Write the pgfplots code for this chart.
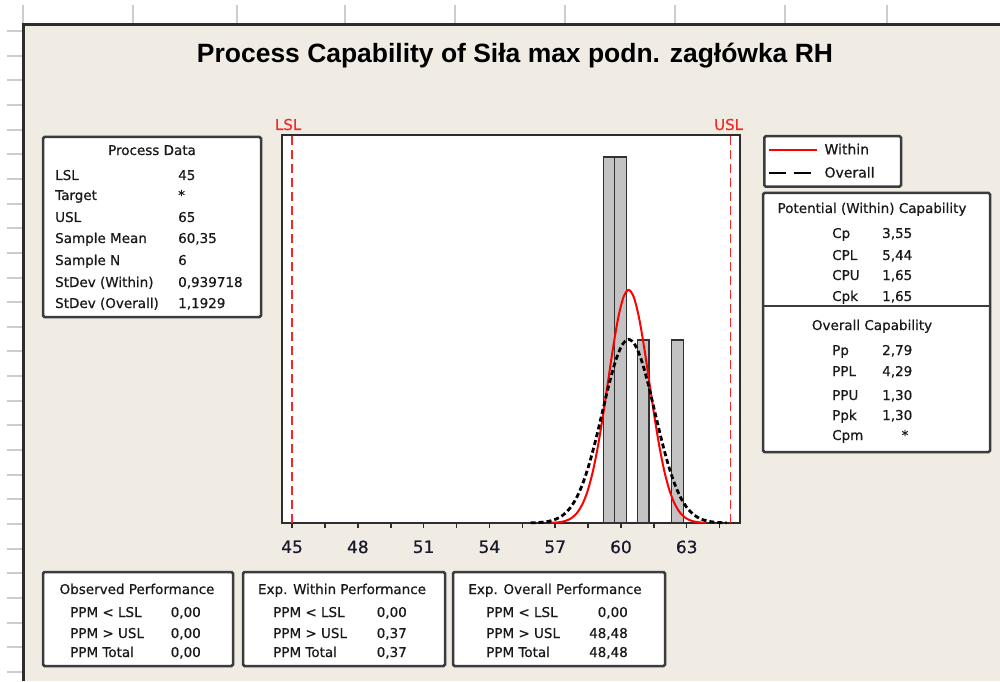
\documentclass[border=0pt]{standalone}
\usepackage{fontspec}
\setmainfont{DejaVu Sans}[FakeBold=0.6]
\newfontfamily\titlefont{Liberation Sans}
\usepackage{graphicx}
\usepackage{pgfplots}
\pgfplotsset{compat=1.18}
\definecolor{bg}{RGB}{240,236,227}
\definecolor{frame}{RGB}{45,45,45}
\definecolor{boxline}{RGB}{60,60,60}
\definecolor{barfill}{RGB}{195,195,195}
\definecolor{bardraw}{RGB}{50,50,50}
\definecolor{gridl}{RGB}{205,205,205}
\definecolor{spec}{RGB}{245,40,40}
\definecolor{txt}{RGB}{25,25,25}
\definecolor{ticktxt}{RGB}{25,25,45}
\newcommand\fs[1]{\fontsize{#1}{#1}\selectfont}
\begin{document}
\begin{tikzpicture}[x=1pt,y=1pt,
  box/.style={draw=boxline,line width=2.5pt,fill=white,rounded corners=1.5pt},
  tl/.style={inner sep=0pt,anchor=base west,font=\fs{13.5},text=txt},
  tr/.style={inner sep=0pt,anchor=base east,font=\fs{13.5},text=txt},
  tc/.style={inner sep=0pt,anchor=base,font=\fs{13.5},text=txt}]
\useasboundingbox (0,0) rectangle (1000,681);
\fill[white] (0,0) rectangle (1000,681);
\foreach \gx in {23,133,237,345,455,565,675,785,887} \draw[gridl,line width=2pt] (\gx,658) -- (\gx,676);
\foreach \k in {0,...,26} {\pgfmathsetmacro\gy{681-31-24.65*\k} \draw[gridl,line width=2pt] (7,\gy) -- (22,\gy);}
\fill[bg] (23,0) rectangle (1000,657);
\draw[frame,line width=3pt] (23.5,0) -- (23.5,656.5) -- (1000,656.5);
% title
\node[inner sep=0pt] at (515,625) {\resizebox{636pt}{!}{\titlefont\bfseries\fs{22}Process Capability of Siła max podn. zagłówka RH}};
% Process data box
\draw[box] (43,544) rectangle (261,364);
\node[tc] at (152,526) {Process Data};
\node[tl] at (55,501) {LSL};            \node[tl] at (178,501) {45};
\node[tl] at (55,481) {Target};         \node[tl] at (178,481) {*};
\node[tl] at (55,459) {USL};            \node[tl] at (178,459) {65};
\node[tl] at (55,438) {Sample Mean};    \node[tl] at (178,438) {60,35};
\node[tl] at (55,416) {Sample N};       \node[tl] at (178,416) {6};
\node[tl] at (55,394) {StDev (Within)}; \node[tl] at (178,394) {0,939718};
\node[tl] at (55,373) {StDev (Overall)};\node[tl] at (178,373) {1,1929};
% capability box
\draw[box] (763,488) rectangle (990,229);
\draw[boxline,line width=2.5pt] (763,375) -- (990,375);
\node[tc] at (872,468) {Potential (Within) Capability};
\node[tl] at (832,443) {Cp};  \node[tl] at (882,443) {3,55};
\node[tl] at (832,421) {CPL}; \node[tl] at (882,421) {5,44};
\node[tl] at (832,401) {CPU}; \node[tl] at (882,401) {1,65};
\node[tl] at (832,380) {Cpk}; \node[tl] at (882,380) {1,65};
\node[tc] at (872,351) {Overall Capability};
\node[tl] at (832,326) {Pp};  \node[tl] at (882,326) {2,79};
\node[tl] at (832,305) {PPL}; \node[tl] at (882,305) {4,29};
\node[tl] at (832,281) {PPU}; \node[tl] at (882,281) {1,30};
\node[tl] at (832,261) {Ppk}; \node[tl] at (882,261) {1,30};
\node[tl] at (832,241) {Cpm}; \node[tc] at (905,241) {*};
% bottom boxes
\draw[box] (43,109) rectangle (233,15);
\node[tc] at (137,87) {Observed Performance};
\node[tl] at (70,64) {PPM < LSL};   \node[tr] at (201,64) {0,00};
\node[tl] at (70,43) {PPM > USL};   \node[tr] at (201,43) {0,00};
\node[tl] at (70,24) {PPM Total};   \node[tr] at (201,24) {0,00};
\draw[box] (243,109) rectangle (445,15);
\node[tc] at (342,87) {Exp. Within Performance};
\node[tl] at (273,64) {PPM < LSL};  \node[tr] at (407,64) {0,00};
\node[tl] at (273,43) {PPM > USL};  \node[tr] at (407,43) {0,37};
\node[tl] at (273,24) {PPM Total};  \node[tr] at (407,24) {0,37};
\draw[box] (453,109) rectangle (665,15);
\node[tc] at (555,87) {Exp. Overall Performance};
\node[tl] at (486,64) {PPM < LSL};  \node[tr] at (628,64) {0,00};
\node[tl] at (486,43) {PPM > USL};  \node[tr] at (628,43) {48,48};
\node[tl] at (486,24) {PPM Total};  \node[tr] at (628,24) {48,48};
\begin{axis}[at={(282pt,158pt)},anchor=south west,scale only axis,
  width=458pt,height=388pt,
  xmin=44.54,xmax=65.43,ymin=0,ymax=2.12,
  xtick={45,48,...,63},minor xtick={46.5,49.5,...,64.5},
  ytick=\empty,xtick pos=left,tick align=outside,
  major tick length=5pt,minor tick length=5pt,
  axis line style={draw=frame,line width=2pt},
  tick style={draw=frame,line width=1.5pt},
  axis background/.style={fill=white},
  xticklabel style={font=\fs{17},text=ticktxt,yshift=-9pt},
  /pgf/number format/assume math mode=true,
  clip=false,
  legend style={at={(1.0502,1)},anchor=north west,draw=boxline,line width=2.5pt,
    fill=white,rounded corners=1.5pt,font=\fs{14},inner xsep=3pt,inner ysep=6pt,
    row sep=8pt,cells={anchor=west},nodes={inner sep=1.5pt,text=txt}},
  legend image code/.code={\draw[#1] (0pt,0pt) -- (48pt,0pt);},
]
\addplot[fill=barfill,draw=bardraw,line width=1.3pt,forget plot] coordinates {(59.20,0)(59.20,2)(59.72,2)(59.72,0)} \closedcycle;
\addplot[fill=barfill,draw=bardraw,line width=1.3pt,forget plot] coordinates {(59.72,0)(59.72,2)(60.24,2)(60.24,0)} \closedcycle;
\addplot[fill=barfill,draw=bardraw,line width=1.3pt,forget plot] coordinates {(60.76,0)(60.76,1)(61.28,1)(61.28,0)} \closedcycle;
\addplot[fill=barfill,draw=bardraw,line width=1.3pt,forget plot] coordinates {(62.32,0)(62.32,1)(62.84,1)(62.84,0)} \closedcycle;
\addplot[spec,line width=1.5pt,dash pattern=on 9pt off 5pt,forget plot] coordinates {(45,0)(45,2.12)};
\addplot[spec,line width=1.5pt,dash pattern=on 9pt off 5pt,forget plot] coordinates {(65,0)(65,2.12)};
\addplot[red,line width=2pt,smooth] coordinates {
(56.826,0.0011)(57.061,0.0028)(57.296,0.0065)(57.531,0.0141)(57.766,0.0290)(58.001,0.0560)(58.236,0.1013)(58.471,0.1724)(58.706,0.2754)(58.940,0.4135)(59.175,0.5831)(59.410,0.7725)(59.645,0.9614)(59.880,1.1239)(60.115,1.2344)(60.350,1.2736)(60.585,1.2344)(60.820,1.1239)(61.055,0.9614)(61.290,0.7725)(61.525,0.5831)(61.760,0.4135)(61.994,0.2754)(62.229,0.1724)(62.464,0.1013)(62.699,0.0560)(62.934,0.0290)(63.169,0.0141)(63.404,0.0065)(63.639,0.0028)(63.874,0.0011)};
\addlegendentry{\hspace{5pt}\makebox[72pt][l]{Within}}
\addplot[black,line width=2.8pt,smooth,dash pattern=on 5pt off 3pt,legend image post style={dash pattern=on 17pt off 8pt}] coordinates {
(55.877,0.0009)(56.175,0.0022)(56.473,0.0051)(56.771,0.0111)(57.070,0.0229)(57.368,0.0441)(57.666,0.0798)(57.964,0.1358)(58.262,0.2170)(58.561,0.3257)(58.859,0.4593)(59.157,0.6085)(59.455,0.7573)(59.754,0.8854)(60.052,0.9724)(60.350,1.0033)(60.648,0.9724)(60.947,0.8854)(61.245,0.7573)(61.543,0.6085)(61.841,0.4593)(62.139,0.3257)(62.438,0.2170)(62.736,0.1358)(63.034,0.0798)(63.332,0.0441)(63.631,0.0229)(63.929,0.0111)(64.227,0.0051)(64.525,0.0022)(64.823,0.0009)};
\addlegendentry{\hspace{5pt}\makebox[72pt][l]{Overall}}
\node[font=\fs{15},text=spec,anchor=base,inner sep=0pt,yshift=5pt,xshift=-4pt] at (axis cs:45,2.12) {LSL};
\node[font=\fs{15},text=spec,anchor=base,inner sep=0pt,yshift=5pt,xshift=-2pt] at (axis cs:65,2.12) {USL};
\end{axis}
\end{tikzpicture}
\end{document}
